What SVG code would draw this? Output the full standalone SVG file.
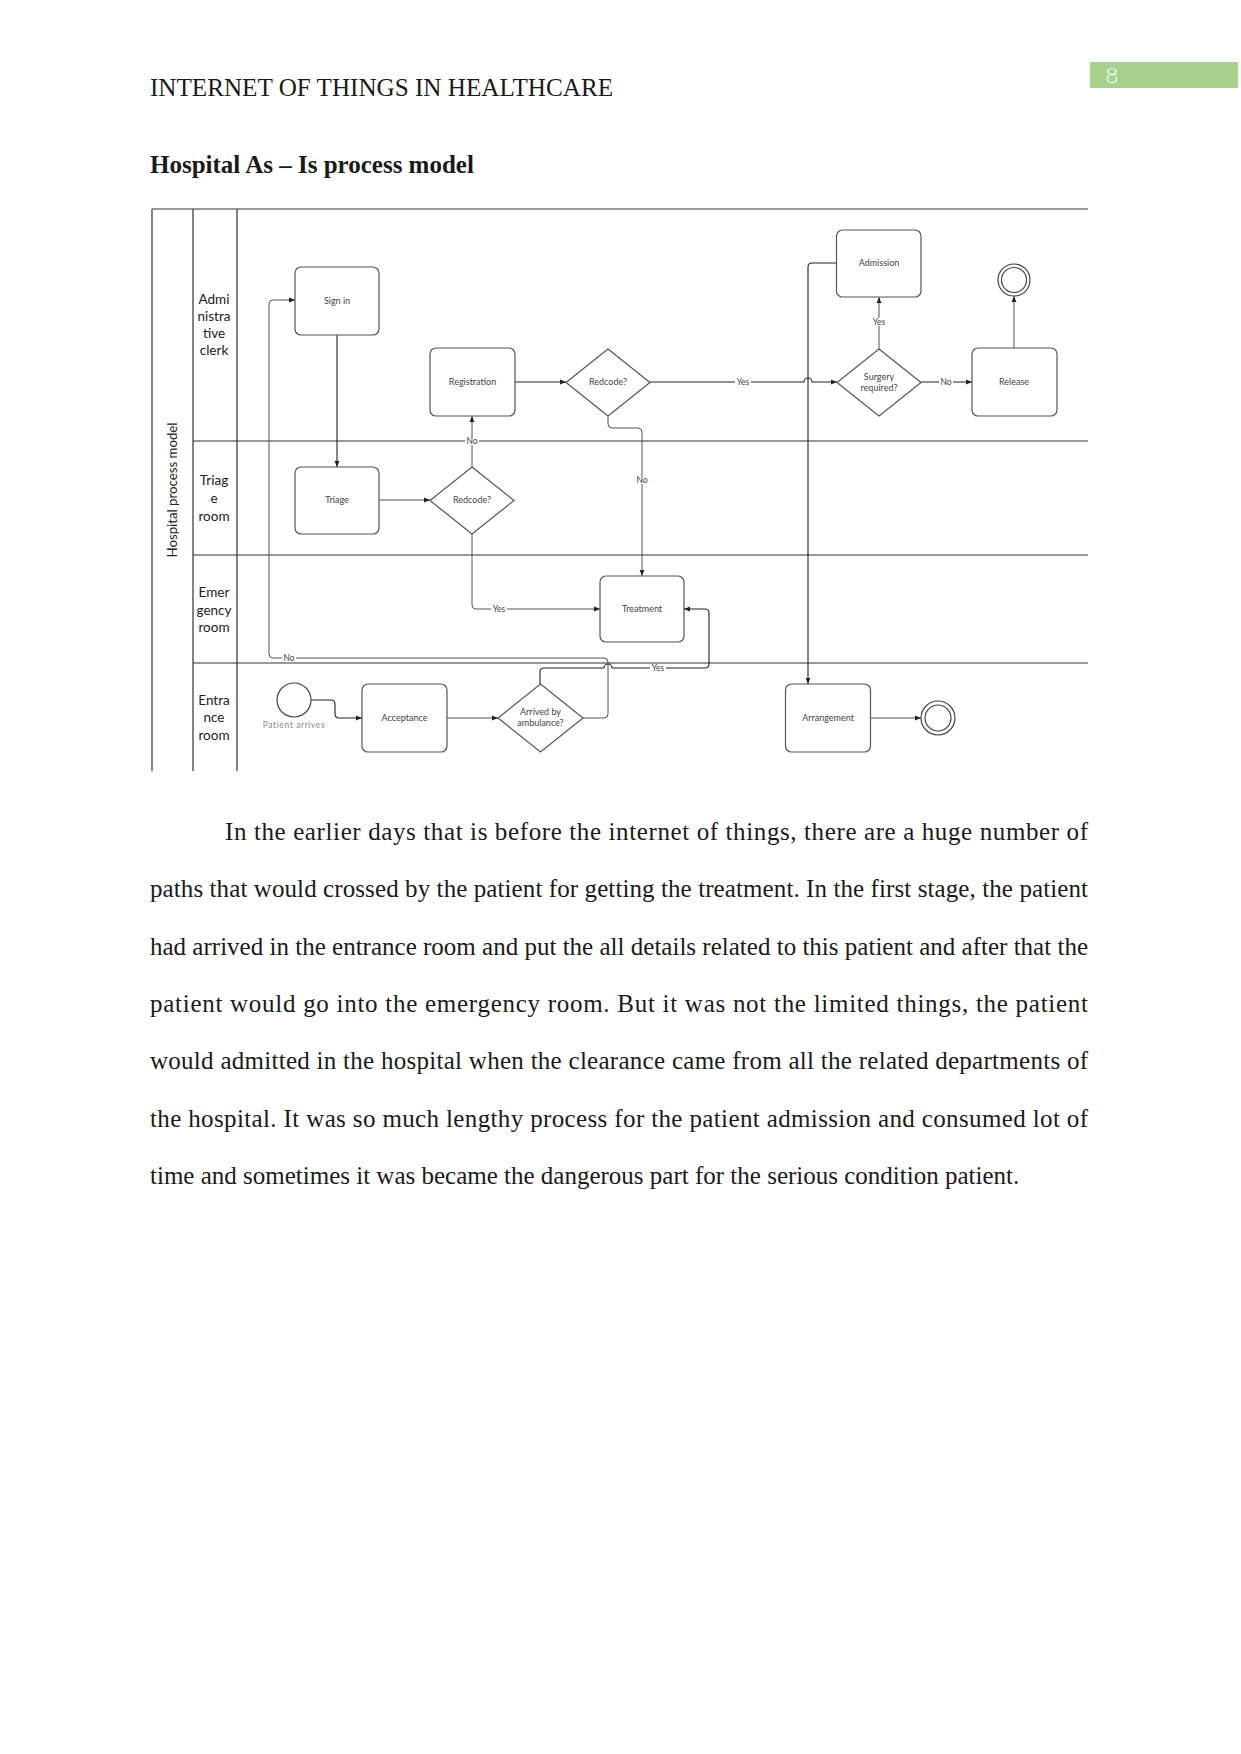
<svg xmlns="http://www.w3.org/2000/svg" width="1241" height="1754" viewBox="0 0 1241 1754">
<defs>
<marker id="ah" viewBox="0 0 10 10" refX="10" refY="5" markerWidth="6" markerHeight="6" orient="auto" markerUnits="userSpaceOnUse">
<path d="M0,1 L10,5 L0,9 z" fill="#222"/>
</marker>
<style>
.page{font-family:"Liberation Serif","Times New Roman",serif;font-size:25px;fill:#1a1a1a}
.lane{fill:none;stroke:#333;stroke-width:1.2}
.lanelbl{font-family:Lato,"Open Sans",sans-serif;font-size:13.5px;fill:#222;text-anchor:middle}
.box{fill:#fff;stroke:#555;stroke-width:1.2}
.lbl{font-family:Lato,"Open Sans",sans-serif;font-size:9px;fill:#444;text-anchor:middle}
.elbl{font-family:Lato,"Open Sans",sans-serif;font-size:8.5px;fill:#444;text-anchor:middle}
.bg{fill:#fff}
.con{fill:none;stroke:#555;stroke-width:1}
.conk{fill:none;stroke:#222;stroke-width:1.1}
</style>
</defs>
<rect width="1241" height="1754" fill="#fff"/>

<!-- page header -->
<rect x="1090" y="62" width="148" height="26" fill="#a9d18e"/>
<text x="1112" y="83" font-family="Lato,'Open Sans',sans-serif" font-size="22" font-weight="300" fill="#fff" text-anchor="middle">8</text>
<text class="page" x="150" y="96" textLength="463" lengthAdjust="spacingAndGlyphs">INTERNET OF THINGS IN HEALTHCARE</text>
<text class="page" x="150" y="173" font-weight="bold">Hospital As – Is process model</text>

<!-- pool and lanes -->
<g id="pool">
<path class="lane" d="M152,209 H1088 M152,209 V771 M193,209 V771 M237,209 V771 M193,441 H1088 M193,555 H1088 M193,663 H1088"/>
<text class="lanelbl" transform="translate(177,490) rotate(-90)" textLength="135" lengthAdjust="spacingAndGlyphs">Hospital process model</text>
<text class="lanelbl"><tspan x="214" y="304">Admi</tspan><tspan x="214" y="321">nistra</tspan><tspan x="214" y="338">tive</tspan><tspan x="214" y="355">clerk</tspan></text>
<text class="lanelbl"><tspan x="214" y="485">Triag</tspan><tspan x="214" y="503">e</tspan><tspan x="214" y="521">room</tspan></text>
<text class="lanelbl"><tspan x="214" y="597">Emer</tspan><tspan x="214" y="615">gency</tspan><tspan x="214" y="632">room</tspan></text>
<text class="lanelbl"><tspan x="214" y="705">Entra</tspan><tspan x="214" y="722">nce</tspan><tspan x="214" y="740">room</tspan></text>
</g>

<!-- connectors -->
<g id="connectors">
<path class="conk" d="M337,335 V467" marker-end="url(#ah)"/>
<path class="con" d="M379,500 H430" marker-end="url(#ah)"/>
<path class="con" d="M472,467 V416" marker-end="url(#ah)"/>
<path class="con" d="M472,534 V605 Q472,609 476,609 H600" marker-end="url(#ah)"/>
<path class="conk" d="M515,382 H566" marker-end="url(#ah)"/>
<path class="conk" d="M650,382 H804 A4,4 0 0 1 812,382 H837" marker-end="url(#ah)"/>
<path class="con" d="M608,416 V424 Q608,428 612,428 H638 Q642,428 642,432 V576" marker-end="url(#ah)"/>
<path class="con" d="M879,349 V297" marker-end="url(#ah)"/>
<path class="conk" d="M921,382 H972" marker-end="url(#ah)"/>
<path class="con" d="M1014,348 V296" marker-end="url(#ah)"/>
<path class="conk" d="M836,263 H812 Q808,263 808,267 V684" marker-end="url(#ah)"/>
<path class="conk" d="M311,700 H331 Q335,700 335,704 V714 Q335,718 339,718 H362" marker-end="url(#ah)"/>
<path class="con" d="M447,718 H498" marker-end="url(#ah)"/>
<path class="con" d="M583,718 H604 Q608,718 608,714 V662 Q608,658 604,658 H273 Q269,658 269,654 V304 Q269,300 273,300 H295" marker-end="url(#ah)"/>
<path class="conk" d="M540,684 V672 Q540,668 544,668 H604 A4,4 0 0 1 612,668 H705 Q709,668 709,664 V613 Q709,609 705,609 H684" marker-end="url(#ah)"/>
<path class="con" d="M871,718 H921" marker-end="url(#ah)"/>
<!-- edge labels -->
<rect class="bg" x="465" y="437" width="14" height="8"/><text class="elbl" x="472" y="444">No</text>
<rect class="bg" x="491" y="605" width="16" height="8"/><text class="elbl" x="499" y="612">Yes</text>
<rect class="bg" x="735" y="378" width="16" height="8"/><text class="elbl" x="743" y="385">Yes</text>
<rect class="bg" x="635" y="476" width="14" height="8"/><text class="elbl" x="642" y="483">No</text>
<rect class="bg" x="871" y="318" width="16" height="8"/><text class="elbl" x="879" y="325">Yes</text>
<rect class="bg" x="939" y="378" width="14" height="8"/><text class="elbl" x="946" y="385">No</text>
<rect class="bg" x="282" y="654" width="14" height="8"/><text class="elbl" x="289" y="661">No</text>
<rect class="bg" x="650" y="664" width="16" height="8"/><text class="elbl" x="658" y="671">Yes</text>
</g>

<!-- nodes -->
<g id="signin"><rect class="box" x="295" y="267" width="84" height="68" rx="6"/><text class="lbl" x="337" y="304">Sign in</text></g>
<g id="triage"><rect class="box" x="295" y="467" width="84" height="67" rx="6"/><text class="lbl" x="337" y="503">Triage</text></g>
<g id="registration"><rect class="box" x="430" y="348" width="85" height="68" rx="6"/><text class="lbl" x="472.5" y="385">Registration</text></g>
<g id="redcode-admin"><polygon class="box" points="608,349 650,382.5 608,416 566,382.5"/><text class="lbl" x="608" y="385">Redcode?</text></g>
<g id="redcode-triage"><polygon class="box" points="472,467 514,500.5 472,534 430,500.5"/><text class="lbl" x="472" y="503">Redcode?</text></g>
<g id="admission"><rect class="box" x="836.5" y="230" width="84.5" height="67" rx="6"/><text class="lbl" x="879" y="266">Admission</text></g>
<g id="surgery"><polygon class="box" points="879,349 921,382.5 879,416 837,382.5"/><text class="lbl" x="879" y="380">Surgery</text><text class="lbl" x="879" y="391">required?</text></g>
<g id="release"><rect class="box" x="972" y="348" width="85" height="68" rx="6"/><text class="lbl" x="1014" y="385">Release</text></g>
<g id="end-top"><circle cx="1014" cy="280" r="16" fill="#fff" stroke="#444" stroke-width="1.2"/><circle cx="1014" cy="280" r="12.5" fill="none" stroke="#444" stroke-width="1.2"/></g>
<g id="treatment"><rect class="box" x="600" y="576" width="84" height="66" rx="6"/><text class="lbl" x="642" y="612">Treatment</text></g>
<g id="start"><circle cx="294" cy="700" r="17" fill="#fff" stroke="#444" stroke-width="1.2"/><text class="elbl" x="294" y="728" fill="#888" style="fill:#888" letter-spacing="0.6">Patient arrives</text></g>
<g id="acceptance"><rect class="box" x="362" y="684" width="85" height="68" rx="6"/><text class="lbl" x="404.5" y="721">Acceptance</text></g>
<g id="ambulance"><polygon class="box" points="540.5,684 583,718 540.5,752 498,718"/><text class="lbl" x="540.5" y="715">Arrived by</text><text class="lbl" x="540.5" y="726">ambulance?</text></g>
<g id="arrangement"><rect class="box" x="785.5" y="684" width="85" height="68" rx="6"/><text class="lbl" x="828" y="721">Arrangement</text></g>
<g id="end-bottom"><circle cx="938" cy="718" r="17" fill="#fff" stroke="#444" stroke-width="1.2"/><circle cx="938" cy="718" r="13" fill="none" stroke="#444" stroke-width="1.2"/></g>

<!-- body text -->
<g id="body">
<text class="page" x="225" y="840" textLength="863" lengthAdjust="spacing">In the earlier days that is before the internet of things, there are a huge number of</text>
<text class="page" x="150" y="897" textLength="938" lengthAdjust="spacing">paths that would crossed by the patient for getting the treatment. In the first stage, the patient</text>
<text class="page" x="150" y="955" textLength="938" lengthAdjust="spacing">had arrived in the entrance room and put the all details related to this patient and after that the</text>
<text class="page" x="150" y="1012" textLength="938" lengthAdjust="spacing">patient would go into the emergency room. But it was not the limited things, the patient</text>
<text class="page" x="150" y="1069" textLength="938" lengthAdjust="spacing">would admitted in the hospital when the clearance came from all the related departments of</text>
<text class="page" x="150" y="1127" textLength="938" lengthAdjust="spacing">the hospital. It was so much lengthy process for the patient admission and consumed lot of</text>
<text class="page" x="150" y="1184">time and sometimes it was became the dangerous part for the serious condition patient.</text>
</g>
</svg>
